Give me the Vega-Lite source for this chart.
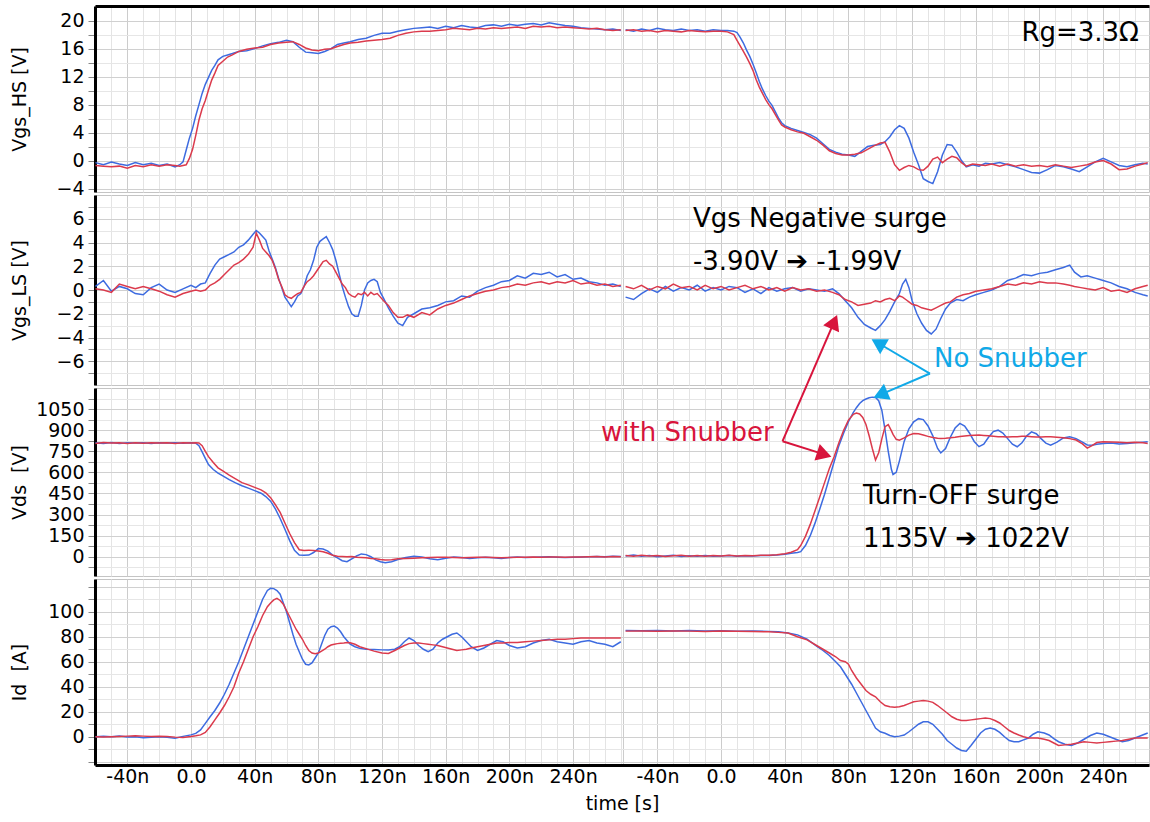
{
"$schema": "https://vega.github.io/schema/vega-lite/v6.json",
"padding": {"left": 9, "top": 5, "right": 0, "bottom": 0},
"background": "white",
"spacing": 3,
"bounds": "flush",
"config": {
  "font": "DejaVu Sans",
  "view": {"stroke": "#c4c4c4", "strokeWidth": 1},
  "axis": {"labelFont": "DejaVu Sans", "titleFont": "DejaVu Sans", "labelFontSize": 19, "titleFontSize": 19, "titleFontWeight": "normal", "labelColor": "black", "titleColor": "black", "labelOverlap": false},
  "axisY": {"domainColor": "black", "domainWidth": 3, "tickColor": "#888888", "tickSize": 7, "labelPadding": 4, "minExtent": 58, "maxExtent": 58, "titlePadding": 8, "format": "d", "labelOverlap": false}
},
"datasets": {
"hs": [
{"t":-60,"N1":-0.3,"W1":-0.7},{"t":-55,"N1":-0.6,"W1":-0.8},{"t":-50,"N1":-0.2,"W1":-0.9},{"t":-45,"N1":-0.5,"W1":-0.8},{"t":-40,"N1":-0.7,"W1":-1.1},{"t":-35,"N1":-0.3,"W1":-0.7},{"t":-30,"N1":-0.6,"W1":-0.9},{"t":-25,"N1":-0.4,"W1":-0.6},{"t":-20,"N1":-0.7,"W1":-0.8},{"t":-15,"N1":-0.5,"W1":-0.6},{"t":-10,"N1":-0.9,"W1":-0.7},{"t":-7,"N1":-0.6,"W1":-0.8},{"t":-5,"N1":-0.2,"W1":-0.7},{"t":-3,"N1":1.5,"W1":-0.6},{"t":-1,"N1":3.2,"W1":0.3},{"t":1,"N1":4.6,"W1":1.6},{"t":3,"N1":6.4,"W1":3.6},{"t":5,"N1":8.0,"W1":5.8},{"t":7,"N1":9.6,"W1":7.4},{"t":9,"N1":10.9,"W1":8.6},{"t":11,"N1":11.9,"W1":10.1},{"t":13,"N1":12.9,"W1":11.5},{"t":15,"N1":13.6,"W1":12.5},{"t":17,"N1":14.4,"W1":13.6},{"t":20,"N1":14.9,"W1":14.2},{"t":23,"N1":15.1,"W1":14.8},{"t":26,"N1":15.3,"W1":15.1},{"t":30,"N1":15.6,"W1":15.6},{"t":35,"N1":15.7,"W1":15.9},{"t":40,"N1":16.0,"W1":16.1},{"t":45,"N1":16.4,"W1":16.2},{"t":50,"N1":16.7,"W1":16.6},{"t":55,"N1":16.9,"W1":16.8},{"t":60,"N1":17.2,"W1":16.9},{"t":64,"N1":17.0,"W1":17.0},{"t":68,"N1":16.2,"W1":16.6},{"t":72,"N1":15.5,"W1":16.1},{"t":76,"N1":15.4,"W1":15.8},{"t":80,"N1":15.3,"W1":15.7},{"t":84,"N1":15.6,"W1":15.9},{"t":88,"N1":16.0,"W1":16.0},{"t":92,"N1":16.6,"W1":16.3},{"t":96,"N1":16.8,"W1":16.6},{"t":100,"N1":17.0,"W1":16.8},{"t":105,"N1":17.3,"W1":16.9},{"t":110,"N1":17.5,"W1":17.1},{"t":115,"N1":17.9,"W1":17.2},{"t":120,"N1":18.2,"W1":17.3},{"t":125,"N1":18.2,"W1":17.5},{"t":130,"N1":18.5,"W1":17.9},{"t":135,"N1":18.7,"W1":18.2},{"t":140,"N1":18.9,"W1":18.4},{"t":145,"N1":19.0,"W1":18.5},{"t":150,"N1":19.1,"W1":18.5},{"t":155,"N1":18.9,"W1":18.6},{"t":160,"N1":19.2,"W1":18.7},{"t":165,"N1":19.0,"W1":18.9},{"t":170,"N1":19.3,"W1":18.8},{"t":175,"N1":19.1,"W1":18.7},{"t":180,"N1":19.0,"W1":18.9},{"t":185,"N1":19.3,"W1":18.8},{"t":190,"N1":19.4,"W1":19.0},{"t":195,"N1":19.2,"W1":18.9},{"t":200,"N1":19.5,"W1":19.0},{"t":205,"N1":19.3,"W1":19.1},{"t":210,"N1":19.5,"W1":18.9},{"t":215,"N1":19.6,"W1":19.2},{"t":220,"N1":19.4,"W1":19.1},{"t":225,"N1":19.7,"W1":19.2},{"t":230,"N1":19.5,"W1":19.0},{"t":235,"N1":19.3,"W1":19.1},{"t":240,"N1":19.2,"W1":19.0},{"t":245,"N1":19.0,"W1":18.9},{"t":250,"N1":18.9,"W1":18.8},{"t":255,"N1":18.8,"W1":18.9},{"t":260,"N1":18.7,"W1":18.7},{"t":265,"N1":18.8,"W1":18.6},{"t":270,"N1":18.6,"W1":18.7},
{"t":273,"N2":18.7,"W2":18.6},{"t":278,"N2":18.5,"W2":18.7},{"t":283,"N2":18.8,"W2":18.5},{"t":288,"N2":18.6,"W2":18.6},{"t":293,"N2":18.9,"W2":18.4},{"t":298,"N2":18.7,"W2":18.6},{"t":303,"N2":18.6,"W2":18.5},{"t":308,"N2":18.8,"W2":18.4},{"t":313,"N2":18.6,"W2":18.6},{"t":318,"N2":18.7,"W2":18.5},{"t":323,"N2":18.5,"W2":18.4},{"t":328,"N2":18.7,"W2":18.5},{"t":333,"N2":18.6,"W2":18.5},{"t":337,"N2":18.6,"W2":18.4},{"t":341,"N2":18.5,"W2":18.0},{"t":343,"N2":18.3,"W2":17.2},{"t":345,"N2":17.6,"W2":16.4},{"t":347,"N2":16.8,"W2":15.6},{"t":349,"N2":15.8,"W2":14.8},{"t":351,"N2":14.9,"W2":13.9},{"t":353,"N2":13.8,"W2":12.9},{"t":355,"N2":12.6,"W2":11.6},{"t":357,"N2":11.3,"W2":10.5},{"t":359,"N2":10.2,"W2":9.6},{"t":361,"N2":9.3,"W2":8.7},{"t":363,"N2":8.5,"W2":8.0},{"t":365,"N2":7.9,"W2":7.4},{"t":367,"N2":7.0,"W2":6.6},{"t":369,"N2":6.1,"W2":5.8},{"t":371,"N2":5.4,"W2":5.1},{"t":373,"N2":5.0,"W2":4.8},{"t":377,"N2":4.6,"W2":4.4},{"t":381,"N2":4.3,"W2":4.1},{"t":385,"N2":4.0,"W2":3.9},{"t":389,"N2":3.7,"W2":3.4},{"t":393,"N2":3.2,"W2":2.9},{"t":397,"N2":2.4,"W2":2.2},{"t":401,"N2":1.6,"W2":1.4},{"t":405,"N2":1.2,"W2":1.0},{"t":409,"N2":0.9,"W2":0.8},{"t":413,"N2":0.8,"W2":0.8},{"t":417,"N2":0.6,"W2":0.9},{"t":421,"N2":1.3,"W2":1.1},{"t":425,"N2":2.0,"W2":1.6},{"t":429,"N2":2.2,"W2":2.1},{"t":433,"N2":2.3,"W2":2.5},{"t":436,"N2":2.7,"W2":2.6},{"t":439,"N2":3.4,"W2":1.2},{"t":442,"N2":4.4,"W2":-0.6},{"t":445,"N2":5.0,"W2":-1.4},{"t":448,"N2":4.6,"W2":-1.0},{"t":451,"N2":3.2,"W2":-0.7},{"t":454,"N2":1.2,"W2":-0.9},{"t":457,"N2":-0.6,"W2":-1.3},{"t":460,"N2":-2.6,"W2":-1.4},{"t":463,"N2":-3.0,"W2":-0.8},{"t":466,"N2":-3.3,"W2":0.2},{"t":469,"N2":-1.6,"W2":0.5},{"t":472,"N2":0.8,"W2":-0.3},{"t":475,"N2":2.3,"W2":0.2},{"t":478,"N2":2.2,"W2":0.6},{"t":481,"N2":1.2,"W2":0.4},{"t":484,"N2":0.0,"W2":-0.3},{"t":487,"N2":-0.9,"W2":-0.8},{"t":491,"N2":-0.6,"W2":-0.5},{"t":495,"N2":-0.8,"W2":-0.6},{"t":499,"N2":-0.4,"W2":-0.7},{"t":503,"N2":-0.5,"W2":-0.5},{"t":508,"N2":-0.3,"W2":-0.8},{"t":513,"N2":-0.6,"W2":-0.5},{"t":518,"N2":-0.9,"W2":-0.8},{"t":523,"N2":-1.3,"W2":-0.6},{"t":528,"N2":-1.7,"W2":-0.8},{"t":533,"N2":-1.8,"W2":-0.7},{"t":538,"N2":-1.3,"W2":-0.9},{"t":543,"N2":-0.7,"W2":-0.6},{"t":548,"N2":-0.9,"W2":-0.8},{"t":553,"N2":-1.2,"W2":-1.0},{"t":558,"N2":-1.6,"W2":-0.8},{"t":563,"N2":-0.9,"W2":-0.6},{"t":568,"N2":-0.2,"W2":-0.2},{"t":573,"N2":0.3,"W2":0.0},{"t":578,"N2":-0.2,"W2":-0.5},{"t":583,"N2":-0.7,"W2":-1.3},{"t":588,"N2":-0.9,"W2":-1.2},{"t":593,"N2":-0.6,"W2":-0.8},{"t":598,"N2":-0.4,"W2":-0.5},{"t":601,"N2":-0.5,"W2":-0.3}
],
"ls": [
{"t":-60,"N1":0.3,"W1":0.1},{"t":-55,"N1":0.8,"W1":0.0},{"t":-50,"N1":-0.1,"W1":-0.2},{"t":-45,"N1":0.3,"W1":0.5},{"t":-40,"N1":0.1,"W1":0.3},{"t":-35,"N1":-0.3,"W1":0.1},{"t":-30,"N1":-0.4,"W1":0.3},{"t":-25,"N1":0.2,"W1":0.1},{"t":-20,"N1":0.5,"W1":-0.1},{"t":-15,"N1":0.0,"W1":-0.4},{"t":-10,"N1":-0.2,"W1":-0.6},{"t":-5,"N1":0.1,"W1":-0.3},{"t":0,"N1":0.4,"W1":-0.1},{"t":3,"N1":0.2,"W1":0.0},{"t":6,"N1":0.5,"W1":-0.1},{"t":9,"N1":0.6,"W1":0.0},{"t":12,"N1":1.4,"W1":0.4},{"t":15,"N1":2.1,"W1":0.6},{"t":18,"N1":2.6,"W1":0.9},{"t":21,"N1":2.8,"W1":1.3},{"t":24,"N1":3.0,"W1":1.7},{"t":27,"N1":3.2,"W1":2.1},{"t":30,"N1":3.6,"W1":2.3},{"t":33,"N1":3.8,"W1":2.6},{"t":36,"N1":4.2,"W1":3.0},{"t":39,"N1":4.7,"W1":3.6},{"t":41,"N1":5.0,"W1":4.8},{"t":43,"N1":4.8,"W1":4.2},{"t":45,"N1":4.5,"W1":3.5},{"t":47,"N1":4.2,"W1":3.2},{"t":49,"N1":3.3,"W1":2.9},{"t":51,"N1":2.6,"W1":2.5},{"t":53,"N1":1.9,"W1":1.8},{"t":55,"N1":1.0,"W1":0.9},{"t":57,"N1":0.2,"W1":0.3},{"t":59,"N1":-0.6,"W1":-0.4},{"t":61,"N1":-1.0,"W1":-0.6},{"t":63,"N1":-1.4,"W1":-0.7},{"t":65,"N1":-1.0,"W1":-0.5},{"t":67,"N1":-0.5,"W1":-0.3},{"t":69,"N1":-0.3,"W1":-0.2},{"t":71,"N1":0.3,"W1":0.3},{"t":73,"N1":1.2,"W1":0.7},{"t":75,"N1":1.7,"W1":0.9},{"t":77,"N1":2.5,"W1":1.2},{"t":79,"N1":3.6,"W1":1.6},{"t":81,"N1":4.1,"W1":2.0},{"t":83,"N1":4.3,"W1":2.4},{"t":85,"N1":4.5,"W1":2.5},{"t":87,"N1":4.0,"W1":2.2},{"t":89,"N1":3.4,"W1":2.0},{"t":91,"N1":2.5,"W1":1.5},{"t":93,"N1":1.4,"W1":1.0},{"t":95,"N1":0.3,"W1":0.5},{"t":97,"N1":-0.6,"W1":0.2},{"t":99,"N1":-1.4,"W1":-0.3},{"t":101,"N1":-2.0,"W1":-0.5},{"t":103,"N1":-2.2,"W1":-0.6},{"t":105,"N1":-2.2,"W1":-0.3},{"t":107,"N1":-1.3,"W1":-0.4},{"t":109,"N1":0.0,"W1":-0.2},{"t":111,"N1":0.6,"W1":-0.5},{"t":113,"N1":0.8,"W1":-0.2},{"t":115,"N1":0.9,"W1":-0.4},{"t":117,"N1":0.7,"W1":-0.3},{"t":119,"N1":-0.2,"W1":-0.6},{"t":121,"N1":-0.7,"W1":-0.9},{"t":124,"N1":-1.5,"W1":-1.3},{"t":127,"N1":-2.2,"W1":-1.9},{"t":130,"N1":-2.8,"W1":-2.3},{"t":133,"N1":-3.0,"W1":-2.3},{"t":136,"N1":-2.3,"W1":-2.1},{"t":140,"N1":-2.0,"W1":-2.3},{"t":145,"N1":-1.6,"W1":-1.9},{"t":150,"N1":-1.5,"W1":-2.1},{"t":155,"N1":-1.3,"W1":-1.6},{"t":160,"N1":-1.0,"W1":-1.3},{"t":165,"N1":-0.9,"W1":-1.1},{"t":170,"N1":-0.5,"W1":-0.8},{"t":175,"N1":-0.6,"W1":-0.5},{"t":180,"N1":-0.1,"W1":-0.3},{"t":185,"N1":0.2,"W1":-0.1},{"t":190,"N1":0.4,"W1":0.0},{"t":195,"N1":0.7,"W1":0.2},{"t":200,"N1":0.8,"W1":0.3},{"t":205,"N1":1.2,"W1":0.5},{"t":210,"N1":1.0,"W1":0.4},{"t":215,"N1":1.4,"W1":0.6},{"t":220,"N1":1.3,"W1":0.7},{"t":225,"N1":1.5,"W1":0.5},{"t":230,"N1":1.1,"W1":0.7},{"t":235,"N1":1.3,"W1":0.6},{"t":240,"N1":0.9,"W1":0.8},{"t":245,"N1":1.0,"W1":0.5},{"t":250,"N1":0.7,"W1":0.6},{"t":255,"N1":0.6,"W1":0.4},{"t":260,"N1":0.4,"W1":0.5},{"t":265,"N1":0.5,"W1":0.3},{"t":270,"N1":0.3,"W1":0.4},
{"t":273,"N2":-0.6,"W2":0.3},{"t":278,"N2":-0.8,"W2":0.1},{"t":283,"N2":-0.3,"W2":0.4},{"t":288,"N2":0.1,"W2":0.0},{"t":293,"N2":-0.2,"W2":0.3},{"t":298,"N2":0.3,"W2":0.1},{"t":303,"N2":-0.1,"W2":0.5},{"t":308,"N2":0.2,"W2":0.2},{"t":313,"N2":0.0,"W2":0.3},{"t":318,"N2":0.4,"W2":0.0},{"t":323,"N2":-0.1,"W2":0.4},{"t":328,"N2":0.2,"W2":0.1},{"t":333,"N2":0.0,"W2":0.3},{"t":338,"N2":0.3,"W2":0.0},{"t":343,"N2":0.2,"W2":0.2},{"t":348,"N2":-0.2,"W2":0.4},{"t":353,"N2":0.1,"W2":0.1},{"t":358,"N2":-0.3,"W2":0.3},{"t":363,"N2":0.2,"W2":0.0},{"t":368,"N2":-0.1,"W2":0.2},{"t":373,"N2":0.1,"W2":-0.1},{"t":378,"N2":0.2,"W2":0.2},{"t":383,"N2":-0.1,"W2":0.0},{"t":388,"N2":0.1,"W2":0.1},{"t":393,"N2":0.0,"W2":-0.1},{"t":398,"N2":-0.1,"W2":0.0},{"t":403,"N2":0.1,"W2":-0.2},{"t":407,"N2":-0.3,"W2":-0.4},{"t":411,"N2":-0.9,"W2":-0.8},{"t":415,"N2":-1.5,"W2":-1.0},{"t":419,"N2":-2.3,"W2":-1.3},{"t":423,"N2":-2.9,"W2":-1.2},{"t":427,"N2":-3.2,"W2":-1.1},{"t":430,"N2":-3.4,"W2":-0.9},{"t":433,"N2":-3.0,"W2":-1.0},{"t":436,"N2":-2.5,"W2":-0.8},{"t":439,"N2":-1.8,"W2":-0.7},{"t":442,"N2":-1.0,"W2":-0.9},{"t":445,"N2":-0.3,"W2":-0.5},{"t":447,"N2":0.5,"W2":-0.6},{"t":449,"N2":0.9,"W2":-0.8},{"t":451,"N2":0.2,"W2":-1.0},{"t":453,"N2":-0.9,"W2":-1.2},{"t":456,"N2":-2.0,"W2":-1.3},{"t":459,"N2":-2.8,"W2":-1.5},{"t":462,"N2":-3.4,"W2":-1.6},{"t":465,"N2":-3.7,"W2":-1.7},{"t":468,"N2":-3.3,"W2":-1.5},{"t":471,"N2":-2.4,"W2":-1.3},{"t":474,"N2":-1.6,"W2":-1.1},{"t":477,"N2":-1.1,"W2":-1.0},{"t":481,"N2":-0.8,"W2":-0.6},{"t":485,"N2":-0.9,"W2":-0.4},{"t":489,"N2":-0.6,"W2":-0.3},{"t":493,"N2":-0.4,"W2":-0.1},{"t":498,"N2":-0.2,"W2":0.0},{"t":503,"N2":0.0,"W2":0.1},{"t":508,"N2":0.3,"W2":0.3},{"t":513,"N2":0.8,"W2":0.5},{"t":518,"N2":1.0,"W2":0.4},{"t":523,"N2":1.3,"W2":0.6},{"t":528,"N2":1.2,"W2":0.5},{"t":533,"N2":1.4,"W2":0.7},{"t":538,"N2":1.5,"W2":0.6},{"t":543,"N2":1.7,"W2":0.6},{"t":548,"N2":1.9,"W2":0.5},{"t":552,"N2":2.1,"W2":0.4},{"t":555,"N2":1.5,"W2":0.3},{"t":559,"N2":1.1,"W2":0.2},{"t":563,"N2":1.2,"W2":0.1},{"t":568,"N2":1.0,"W2":0.0},{"t":573,"N2":0.8,"W2":0.2},{"t":578,"N2":0.6,"W2":-0.1},{"t":583,"N2":0.3,"W2":0.0},{"t":588,"N2":0.1,"W2":-0.2},{"t":593,"N2":-0.2,"W2":0.1},{"t":598,"N2":-0.4,"W2":0.3},{"t":601,"N2":-0.5,"W2":0.4}
],
"ds": [
{"t":-60,"N1":810,"W1":805},{"t":-55,"N1":805,"W1":812},{"t":-50,"N1":812,"W1":808},{"t":-45,"N1":806,"W1":810},{"t":-40,"N1":810,"W1":806},{"t":-35,"N1":808,"W1":811},{"t":-30,"N1":811,"W1":807},{"t":-25,"N1":806,"W1":810},{"t":-20,"N1":810,"W1":808},{"t":-15,"N1":808,"W1":811},{"t":-10,"N1":811,"W1":806},{"t":-5,"N1":807,"W1":810},{"t":0,"N1":810,"W1":808},{"t":3,"N1":808,"W1":811},{"t":5,"N1":790,"W1":809},{"t":7,"N1":746,"W1":790},{"t":9,"N1":700,"W1":750},{"t":11,"N1":655,"W1":712},{"t":14,"N1":620,"W1":670},{"t":17,"N1":595,"W1":632},{"t":20,"N1":575,"W1":610},{"t":24,"N1":548,"W1":580},{"t":28,"N1":525,"W1":553},{"t":32,"N1":505,"W1":527},{"t":36,"N1":488,"W1":511},{"t":40,"N1":470,"W1":493},{"t":44,"N1":452,"W1":476},{"t":47,"N1":428,"W1":455},{"t":50,"N1":395,"W1":420},{"t":53,"N1":340,"W1":370},{"t":56,"N1":272,"W1":315},{"t":59,"N1":195,"W1":240},{"t":62,"N1":115,"W1":165},{"t":65,"N1":45,"W1":100},{"t":68,"N1":12,"W1":50},{"t":71,"N1":10,"W1":45},{"t":74,"N1":12,"W1":47},{"t":77,"N1":30,"W1":44},{"t":80,"N1":58,"W1":40},{"t":83,"N1":55,"W1":36},{"t":86,"N1":40,"W1":25},{"t":89,"N1":12,"W1":10},{"t":92,"N1":-8,"W1":3},{"t":95,"N1":-28,"W1":2},{"t":98,"N1":-35,"W1":0},{"t":101,"N1":-15,"W1":2},{"t":104,"N1":5,"W1":-3},{"t":107,"N1":20,"W1":-5},{"t":110,"N1":15,"W1":-8},{"t":113,"N1":0,"W1":-12},{"t":116,"N1":-22,"W1":-15},{"t":119,"N1":-35,"W1":-20},{"t":122,"N1":-42,"W1":-24},{"t":126,"N1":-35,"W1":-22},{"t":130,"N1":-20,"W1":-15},{"t":135,"N1":-5,"W1":-12},{"t":140,"N1":3,"W1":-10},{"t":145,"N1":-2,"W1":-8},{"t":150,"N1":-15,"W1":-6},{"t":155,"N1":-22,"W1":-4},{"t":160,"N1":-10,"W1":-3},{"t":165,"N1":-2,"W1":-5},{"t":170,"N1":-5,"W1":-8},{"t":175,"N1":-12,"W1":-6},{"t":180,"N1":-8,"W1":-4},{"t":185,"N1":-3,"W1":-3},{"t":190,"N1":-8,"W1":-6},{"t":195,"N1":-12,"W1":-8},{"t":200,"N1":-5,"W1":-6},{"t":205,"N1":-2,"W1":-3},{"t":210,"N1":-6,"W1":-4},{"t":215,"N1":-3,"W1":-2},{"t":220,"N1":-2,"W1":-3},{"t":225,"N1":0,"W1":-1},{"t":230,"N1":-3,"W1":-2},{"t":235,"N1":-5,"W1":-3},{"t":240,"N1":-3,"W1":-1},{"t":245,"N1":-1,"W1":-2},{"t":250,"N1":0,"W1":0},{"t":255,"N1":2,"W1":1},{"t":260,"N1":0,"W1":-1},{"t":265,"N1":3,"W1":2},{"t":270,"N1":1,"W1":0},
{"t":273,"N2":5,"W2":8},{"t":278,"N2":12,"W2":3},{"t":283,"N2":3,"W2":10},{"t":288,"N2":8,"W2":5},{"t":293,"N2":0,"W2":9},{"t":298,"N2":6,"W2":2},{"t":303,"N2":10,"W2":7},{"t":308,"N2":2,"W2":11},{"t":313,"N2":7,"W2":4},{"t":318,"N2":4,"W2":8},{"t":323,"N2":9,"W2":3},{"t":328,"N2":3,"W2":9},{"t":333,"N2":6,"W2":5},{"t":338,"N2":8,"W2":10},{"t":343,"N2":4,"W2":6},{"t":348,"N2":7,"W2":9},{"t":353,"N2":5,"W2":7},{"t":358,"N2":9,"W2":10},{"t":363,"N2":8,"W2":10},{"t":368,"N2":12,"W2":14},{"t":373,"N2":18,"W2":22},{"t":377,"N2":25,"W2":32},{"t":381,"N2":30,"W2":50},{"t":383,"N2":36,"W2":80},{"t":386,"N2":80,"W2":145},{"t":389,"N2":150,"W2":230},{"t":392,"N2":239,"W2":327},{"t":395,"N2":340,"W2":427},{"t":398,"N2":445,"W2":527},{"t":401,"N2":560,"W2":627},{"t":404,"N2":676,"W2":711},{"t":407,"N2":790,"W2":810},{"t":410,"N2":880,"W2":900},{"t":413,"N2":960,"W2":972},{"t":416,"N2":1025,"W2":1012},{"t":418,"N2":1060,"W2":1022},{"t":420,"N2":1090,"W2":1015},{"t":422,"N2":1110,"W2":990},{"t":424,"N2":1122,"W2":940},{"t":426,"N2":1130,"W2":860},{"t":428,"N2":1135,"W2":770},{"t":430,"N2":1132,"W2":688},{"t":432,"N2":1110,"W2":740},{"t":434,"N2":1040,"W2":840},{"t":436,"N2":900,"W2":925},{"t":438,"N2":750,"W2":940},{"t":440,"N2":620,"W2":895},{"t":441,"N2":585,"W2":870},{"t":443,"N2":600,"W2":835},{"t":445,"N2":680,"W2":829},{"t":448,"N2":820,"W2":845},{"t":451,"N2":910,"W2":865},{"t":454,"N2":960,"W2":877},{"t":457,"N2":982,"W2":875},{"t":460,"N2":975,"W2":866},{"t":463,"N2":930,"W2":856},{"t":466,"N2":860,"W2":848},{"t":469,"N2":770,"W2":843},{"t":471,"N2":738,"W2":841},{"t":474,"N2":770,"W2":843},{"t":477,"N2":850,"W2":846},{"t":480,"N2":915,"W2":850},{"t":483,"N2":948,"W2":855},{"t":486,"N2":930,"W2":859},{"t":489,"N2":880,"W2":862},{"t":492,"N2":820,"W2":864},{"t":495,"N2":783,"W2":865},{"t":498,"N2":800,"W2":863},{"t":501,"N2":850,"W2":860},{"t":504,"N2":890,"W2":857},{"t":507,"N2":900,"W2":854},{"t":510,"N2":880,"W2":853},{"t":513,"N2":840,"W2":852},{"t":516,"N2":800,"W2":853},{"t":519,"N2":782,"W2":854},{"t":522,"N2":810,"W2":856},{"t":525,"N2":860,"W2":856},{"t":528,"N2":888,"W2":854},{"t":531,"N2":875,"W2":852},{"t":534,"N2":840,"W2":852},{"t":537,"N2":808,"W2":853},{"t":540,"N2":794,"W2":853},{"t":544,"N2":815,"W2":850},{"t":548,"N2":845,"W2":846},{"t":552,"N2":853,"W2":840},{"t":556,"N2":840,"W2":830},{"t":560,"N2":815,"W2":802},{"t":563,"N2":795,"W2":772},{"t":566,"N2":793,"W2":790},{"t":569,"N2":800,"W2":812},{"t":573,"N2":805,"W2":818},{"t":578,"N2":808,"W2":816},{"t":583,"N2":802,"W2":815},{"t":588,"N2":806,"W2":811},{"t":593,"N2":810,"W2":815},{"t":598,"N2":815,"W2":810},{"t":601,"N2":818,"W2":806}
],
"id": [
{"t":-60,"N1":0,"W1":0},{"t":-55,"N1":0.3,"W1":-0.2},{"t":-50,"N1":0,"W1":0},{"t":-45,"N1":0.5,"W1":0.2},{"t":-40,"N1":-0.2,"W1":0.5},{"t":-35,"N1":0,"W1":0.8},{"t":-30,"N1":-0.8,"W1":0.5},{"t":-25,"N1":-0.4,"W1":0.3},{"t":-20,"N1":0,"W1":0.4},{"t":-15,"N1":-0.5,"W1":0.2},{"t":-10,"N1":-1.2,"W1":-0.3},{"t":-5,"N1":0.3,"W1":-0.5},{"t":0,"N1":1.5,"W1":0.2},{"t":3,"N1":2.7,"W1":0.8},{"t":6,"N1":5.5,"W1":1.5},{"t":9,"N1":10.7,"W1":3.5},{"t":12,"N1":16,"W1":8},{"t":15,"N1":21,"W1":13.5},{"t":18,"N1":27,"W1":19},{"t":21,"N1":34,"W1":25},{"t":24,"N1":42,"W1":32},{"t":27,"N1":51,"W1":40},{"t":30,"N1":60,"W1":51},{"t":33,"N1":70,"W1":60},{"t":36,"N1":80,"W1":70},{"t":39,"N1":90,"W1":80},{"t":42,"N1":100,"W1":88},{"t":45,"N1":110,"W1":97},{"t":48,"N1":117,"W1":104},{"t":50,"N1":118.7,"W1":107},{"t":52,"N1":118.5,"W1":109.5},{"t":54,"N1":117,"W1":110.7},{"t":56,"N1":114,"W1":109},{"t":58,"N1":107,"W1":106},{"t":60,"N1":100,"W1":101},{"t":62,"N1":91,"W1":96},{"t":64,"N1":82,"W1":91},{"t":66,"N1":74,"W1":86},{"t":68,"N1":68,"W1":82},{"t":70,"N1":62,"W1":78},{"t":72,"N1":58,"W1":73},{"t":74,"N1":57.4,"W1":69},{"t":76,"N1":59,"W1":67},{"t":78,"N1":63,"W1":66.5},{"t":80,"N1":67,"W1":67},{"t":82,"N1":74,"W1":68.5},{"t":84,"N1":81,"W1":70},{"t":86,"N1":86,"W1":72},{"t":88,"N1":88,"W1":73.4},{"t":90,"N1":88.5,"W1":74},{"t":92,"N1":87,"W1":74.5},{"t":94,"N1":84,"W1":74.8},{"t":96,"N1":80,"W1":75},{"t":98,"N1":77,"W1":75.3},{"t":100,"N1":74,"W1":75.2},{"t":103,"N1":72,"W1":74},{"t":106,"N1":70.7,"W1":72},{"t":110,"N1":70,"W1":70.5},{"t":115,"N1":69.8,"W1":68.5},{"t":120,"N1":69.5,"W1":67},{"t":124,"N1":69.4,"W1":66.7},{"t":128,"N1":70,"W1":69},{"t":131,"N1":72,"W1":71},{"t":134,"N1":76,"W1":73},{"t":137,"N1":79,"W1":74.5},{"t":140,"N1":77,"W1":75},{"t":143,"N1":73,"W1":75},{"t":146,"N1":70,"W1":74.5},{"t":149,"N1":68,"W1":74},{"t":152,"N1":70,"W1":73.5},{"t":155,"N1":75,"W1":73},{"t":158,"N1":78,"W1":72},{"t":161,"N1":80,"W1":71},{"t":164,"N1":82,"W1":70},{"t":167,"N1":83,"W1":69},{"t":170,"N1":80,"W1":69.5},{"t":173,"N1":76,"W1":70},{"t":176,"N1":72,"W1":71},{"t":180,"N1":69,"W1":72},{"t":184,"N1":71,"W1":73},{"t":188,"N1":74,"W1":74},{"t":192,"N1":77,"W1":75},{"t":196,"N1":76,"W1":75},{"t":200,"N1":73,"W1":75.5},{"t":205,"N1":71,"W1":75.5},{"t":210,"N1":72,"W1":76},{"t":215,"N1":75,"W1":76.5},{"t":220,"N1":77,"W1":77},{"t":225,"N1":78,"W1":77.5},{"t":230,"N1":76,"W1":78},{"t":235,"N1":75,"W1":78},{"t":240,"N1":74,"W1":78.5},{"t":245,"N1":76,"W1":79},{"t":250,"N1":77,"W1":79},{"t":255,"N1":75,"W1":79},{"t":260,"N1":74,"W1":79},{"t":265,"N1":72,"W1":79},{"t":270,"N1":76,"W1":79},
{"t":273,"N2":85,"W2":84.5},{"t":283,"N2":84.8,"W2":84.6},{"t":293,"N2":85,"W2":84.4},{"t":303,"N2":84.7,"W2":84.6},{"t":313,"N2":84.9,"W2":84.5},{"t":323,"N2":84.6,"W2":84.3},{"t":333,"N2":84.8,"W2":84.5},{"t":343,"N2":84.5,"W2":84.4},{"t":353,"N2":84.6,"W2":84.2},{"t":363,"N2":84.3,"W2":84.0},{"t":369,"N2":84,"W2":83.5},{"t":375,"N2":83,"W2":83},{"t":381,"N2":81.5,"W2":80},{"t":387,"N2":78,"W2":77.5},{"t":393,"N2":72.5,"W2":73},{"t":397,"N2":69,"W2":70},{"t":401,"N2":65,"W2":67},{"t":405,"N2":60,"W2":64},{"t":408,"N2":56,"W2":61},{"t":411,"N2":50,"W2":60},{"t":413,"N2":46,"W2":58},{"t":415,"N2":42,"W2":53},{"t":418,"N2":35,"W2":47},{"t":421,"N2":28,"W2":42},{"t":424,"N2":21,"W2":37},{"t":427,"N2":14,"W2":34},{"t":430,"N2":7,"W2":32},{"t":433,"N2":4,"W2":28},{"t":436,"N2":2.8,"W2":25},{"t":439,"N2":1,"W2":24},{"t":442,"N2":0,"W2":23.7},{"t":445,"N2":0.5,"W2":24},{"t":448,"N2":1.4,"W2":25},{"t":451,"N2":4,"W2":26.5},{"t":454,"N2":7,"W2":28},{"t":457,"N2":10,"W2":28.5},{"t":460,"N2":12,"W2":29},{"t":463,"N2":12,"W2":28.5},{"t":466,"N2":10,"W2":27.5},{"t":469,"N2":6,"W2":25},{"t":472,"N2":2,"W2":22},{"t":475,"N2":-3,"W2":19},{"t":478,"N2":-6,"W2":16},{"t":481,"N2":-9,"W2":14},{"t":484,"N2":-11,"W2":13},{"t":487,"N2":-11.5,"W2":13},{"t":490,"N2":-7,"W2":13.5},{"t":493,"N2":-2,"W2":14},{"t":496,"N2":3,"W2":14.5},{"t":499,"N2":6,"W2":15},{"t":502,"N2":7,"W2":14.5},{"t":505,"N2":6,"W2":13},{"t":508,"N2":3.5,"W2":11},{"t":511,"N2":0,"W2":8},{"t":514,"N2":-3,"W2":5},{"t":517,"N2":-4,"W2":3},{"t":520,"N2":-4,"W2":1.4},{"t":523,"N2":-2.5,"W2":0},{"t":526,"N2":-1,"W2":-1},{"t":529,"N2":2,"W2":-1},{"t":532,"N2":4,"W2":-1},{"t":536,"N2":3,"W2":-2},{"t":539,"N2":1.4,"W2":-3},{"t":542,"N2":-1.5,"W2":-5},{"t":545,"N2":-4,"W2":-7},{"t":549,"N2":-6,"W2":-6.5},{"t":553,"N2":-7,"W2":-6},{"t":557,"N2":-5,"W2":-5},{"t":561,"N2":-2,"W2":-4},{"t":565,"N2":1,"W2":-4.5},{"t":569,"N2":3,"W2":-5},{"t":573,"N2":2,"W2":-4.5},{"t":577,"N2":0,"W2":-4},{"t":581,"N2":-2,"W2":-3.5},{"t":585,"N2":-4,"W2":-3},{"t":589,"N2":-3,"W2":-2},{"t":593,"N2":-1,"W2":-1},{"t":597,"N2":1,"W2":-1},{"t":601,"N2":3,"W2":-1}
]
},
"vconcat": [
{
 "width": 1054, "height": 186,
 "resolve": {"axis": {"x": "independent", "y": "independent"}},
 "layer": [
  {"data": {"name": "hs"}, "transform": [{"fold": ["N1","W1","N2","W2"], "as": ["k","v"]}],
   "mark": {"type": "line", "strokeWidth": 1.5, "clip": true},
   "encoding": {
    "x": {"field": "t", "type": "quantitative", "scale": {"domain": [-60.3, 601.8], "nice": false, "zero": false},
      "axis": {"orient": "top", "values": [-50,-40,-30,-20,-10,0,10,20,30,40,50,60,70,80,90,100,110,120,130,140,150,160,170,180,190,200,210,220,230,240,250,260,270,271.5,283,293,303,313,323,333,343,353,363,373,383,393,403,413,423,433,443,453,463,473,483,493,503,513,523,533,543,553,563,573,583,593], "labels": false, "ticks": false, "domain": true, "domainColor": "black", "domainWidth": 3, "title": null, "grid": true, "gridColor": {"condition": {"test": "datum.value == 271.5 || (datum.value < 271 ? datum.value : datum.value - 333) % 40 == 0", "value": "#cccccc"}, "value": "#e4e4e4"}, "minExtent": 0, "maxExtent": 0}},
    "y": {"field": "v", "type": "quantitative", "scale": {"domain": [-4.5, 22.1], "nice": false, "zero": false},
      "axis": {"title": "Vgs_HS [V]", "values": [-4,-2,0,2,4,6,8,10,12,14,16,18,20], "labelOverlap": false, "labelExpr": "datum.value % 4 == 0 ? datum.label : ''", "gridColor": {"condition": {"test": "datum.value % 4 == 0", "value": "#d0d0d0"}, "value": "#e6e6e6"}}},
    "color": {"field": "k", "type": "nominal", "scale": {"domain": ["N1","N2","W1","W2"], "range": ["#3d6be0","#3d6be0","#db3a4c","#db3a4c"]}, "legend": null}
   }},
  {"data": {"values": [{}]}, "mark": {"type": "text", "text": "Rg=3.3Ω", "align": "right", "baseline": "middle", "fontSize": 26, "font": "DejaVu Sans", "fill": "black"},
   "encoding": {"x": {"datum": 595.5, "type": "quantitative", "axis": null}, "y": {"datum": 18.3, "type": "quantitative", "axis": null}}}
 ]
},
{
 "width": 1054, "height": 190,
 "resolve": {"axis": {"x": "independent", "y": "independent"}},
 "layer": [
  {"data": {"name": "ls"}, "transform": [{"fold": ["N1","W1","N2","W2"], "as": ["k","v"]}],
   "mark": {"type": "line", "strokeWidth": 1.5, "clip": true},
   "encoding": {
    "x": {"field": "t", "type": "quantitative", "scale": {"domain": [-60.3, 601.8], "nice": false, "zero": false},
      "axis": {"values": [-50,-40,-30,-20,-10,0,10,20,30,40,50,60,70,80,90,100,110,120,130,140,150,160,170,180,190,200,210,220,230,240,250,260,270,271.5,283,293,303,313,323,333,343,353,363,373,383,393,403,413,423,433,443,453,463,473,483,493,503,513,523,533,543,553,563,573,583,593], "labels": false, "ticks": false, "domain": false, "title": null, "grid": true, "gridColor": {"condition": {"test": "datum.value == 271.5 || (datum.value < 271 ? datum.value : datum.value - 333) % 40 == 0", "value": "#cccccc"}, "value": "#e4e4e4"}, "minExtent": 0, "maxExtent": 0}},
    "y": {"field": "v", "type": "quantitative", "scale": {"domain": [-8, 8], "nice": false, "zero": false},
      "axis": {"title": "Vgs_LS [V]", "values": [-7,-6,-5,-4,-3,-2,-1,0,1,2,3,4,5,6,7], "labelOverlap": false, "labelExpr": "datum.value % 2 == 0 ? datum.label : ''", "gridColor": {"condition": {"test": "datum.value % 2 == 0", "value": "#d0d0d0"}, "value": "#e6e6e6"}}},
    "color": {"field": "k", "type": "nominal", "scale": {"domain": ["N1","N2","W1","W2"], "range": ["#3d6be0","#3d6be0","#db3a4c","#db3a4c"]}, "legend": null}
   }},
  {"data": {"values": [{}]}, "mark": {"type": "text", "text": "Vgs Negative surge", "align": "left", "baseline": "middle", "fontSize": 26, "font": "DejaVu Sans", "fill": "black"},
   "encoding": {"x": {"datum": 315.3, "type": "quantitative", "axis": null}, "y": {"datum": 6.02, "type": "quantitative", "axis": null}}},
  {"data": {"values": [{}]}, "mark": {"type": "text", "text": "-3.90V ➔ -1.99V", "align": "left", "baseline": "middle", "fontSize": 26, "font": "DejaVu Sans", "fill": "black"},
   "encoding": {"x": {"datum": 315.3, "type": "quantitative", "axis": null}, "y": {"datum": 2.4, "type": "quantitative", "axis": null}}},
  {"data": {"values": [{}]}, "mark": {"type": "text", "text": "No Snubber", "align": "left", "baseline": "middle", "fontSize": 26, "font": "DejaVu Sans", "fill": "#10a9e8"},
   "encoding": {"x": {"datum": 466.7, "type": "quantitative", "axis": null}, "y": {"datum": -5.85, "type": "quantitative", "axis": null}}}
 ]
},
{
 "width": 1054, "height": 188,
 "resolve": {"axis": {"x": "independent", "y": "independent"}},
 "layer": [
  {"data": {"name": "ds"}, "transform": [{"fold": ["N1","W1","N2","W2"], "as": ["k","v"]}],
   "mark": {"type": "line", "strokeWidth": 1.5, "clip": true},
   "encoding": {
    "x": {"field": "t", "type": "quantitative", "scale": {"domain": [-60.3, 601.8], "nice": false, "zero": false},
      "axis": {"values": [-50,-40,-30,-20,-10,0,10,20,30,40,50,60,70,80,90,100,110,120,130,140,150,160,170,180,190,200,210,220,230,240,250,260,270,271.5,283,293,303,313,323,333,343,353,363,373,383,393,403,413,423,433,443,453,463,473,483,493,503,513,523,533,543,553,563,573,583,593], "labels": false, "ticks": false, "domain": false, "title": null, "grid": true, "gridColor": {"condition": {"test": "datum.value == 271.5 || (datum.value < 271 ? datum.value : datum.value - 333) % 40 == 0", "value": "#cccccc"}, "value": "#e4e4e4"}, "minExtent": 0, "maxExtent": 0}},
    "y": {"field": "v", "type": "quantitative", "scale": {"domain": [-137, 1200], "nice": false, "zero": false},
      "axis": {"title": "Vds\u00a0\u00a0[V]", "values": [-75,0,75,150,225,300,375,450,525,600,675,750,825,900,975,1050,1125], "labelOverlap": false, "labelExpr": "datum.value >= 0 && datum.value % 150 == 0 ? datum.label : ''", "gridColor": {"condition": {"test": "datum.value % 150 == 0", "value": "#d0d0d0"}, "value": "#e6e6e6"}}},
    "color": {"field": "k", "type": "nominal", "scale": {"domain": ["N1","N2","W1","W2"], "range": ["#3d6be0","#3d6be0","#db3a4c","#db3a4c"]}, "legend": null}
   }},
  {"data": {"values": [{}]}, "mark": {"type": "text", "text": "with Snubber", "align": "left", "baseline": "middle", "fontSize": 26, "font": "DejaVu Sans", "fill": "#d8143c"},
   "encoding": {"x": {"datum": 257.6, "type": "quantitative", "axis": null}, "y": {"datum": 883.5, "type": "quantitative", "axis": null}}},
  {"data": {"values": [{}]}, "mark": {"type": "text", "text": "Turn-OFF surge", "align": "left", "baseline": "middle", "fontSize": 26, "font": "DejaVu Sans", "fill": "black"},
   "encoding": {"x": {"datum": 422.1, "type": "quantitative", "axis": null}, "y": {"datum": 428.4, "type": "quantitative", "axis": null}}},
  {"data": {"values": [{}]}, "mark": {"type": "text", "text": "1135V ➔ 1022V", "align": "left", "baseline": "middle", "fontSize": 26, "font": "DejaVu Sans", "fill": "black"},
   "encoding": {"x": {"datum": 422.1, "type": "quantitative", "axis": null}, "y": {"datum": 122.6, "type": "quantitative", "axis": null}}},
  {"data": {"values": [{}]}, "mark": {"type": "rule", "color": "#d8143c", "strokeWidth": 2},
   "encoding": {"x": {"datum": 371.6, "type": "quantitative", "axis": null}, "y": {"datum": 821.7, "type": "quantitative", "axis": null}, "x2": {"datum": 404.0}, "y2": {"datum": 1670}}},
  {"data": {"values": [{}]}, "mark": {"type": "rule", "color": "#d8143c", "strokeWidth": 2},
   "encoding": {"x": {"datum": 371.6, "type": "quantitative", "axis": null}, "y": {"datum": 821.7, "type": "quantitative", "axis": null}, "x2": {"datum": 397.8}, "y2": {"datum": 727.8}}},
  {"data": {"values": [{}]}, "mark": {"type": "rule", "color": "#10a9e8", "strokeWidth": 2},
   "encoding": {"x": {"datum": 464.2, "type": "quantitative", "axis": null}, "y": {"datum": 1303, "type": "quantitative", "axis": null}, "x2": {"datum": 431.6}, "y2": {"datum": 1520}}},
  {"data": {"values": [{}]}, "mark": {"type": "rule", "color": "#10a9e8", "strokeWidth": 2},
   "encoding": {"x": {"datum": 464.2, "type": "quantitative", "axis": null}, "y": {"datum": 1303, "type": "quantitative", "axis": null}, "x2": {"datum": 433.1}, "y2": {"datum": 1152.4}}},
  {"data": {"values": [{}]}, "mark": {"type": "point", "shape": "triangle-up", "filled": true, "size": 300, "angle": 23.4, "color": "#d8143c", "opacity": 1},
   "encoding": {"x": {"datum": 404.0, "type": "quantitative", "axis": null}, "y": {"datum": 1670, "type": "quantitative", "axis": null}}},
  {"data": {"values": [{}]}, "mark": {"type": "point", "shape": "triangle-up", "filled": true, "size": 300, "angle": 107.5, "color": "#d8143c", "opacity": 1},
   "encoding": {"x": {"datum": 397.8, "type": "quantitative", "axis": null}, "y": {"datum": 727.8, "type": "quantitative", "axis": null}}},
  {"data": {"values": [{}]}, "mark": {"type": "point", "shape": "triangle-up", "filled": true, "size": 300, "angle": 300.4, "color": "#10a9e8", "opacity": 1},
   "encoding": {"x": {"datum": 431.6, "type": "quantitative", "axis": null}, "y": {"datum": 1520, "type": "quantitative", "axis": null}}},
  {"data": {"values": [{}]}, "mark": {"type": "point", "shape": "triangle-up", "filled": true, "size": 300, "angle": 246.8, "color": "#10a9e8", "opacity": 1},
   "encoding": {"x": {"datum": 433.1, "type": "quantitative", "axis": null}, "y": {"datum": 1152.4, "type": "quantitative", "axis": null}}}
 ]
},
{
 "width": 1054, "height": 186,
 "layer": [
  {"data": {"name": "id"}, "transform": [{"fold": ["N1","W1","N2","W2"], "as": ["k","v"]}],
   "mark": {"type": "line", "strokeWidth": 1.5, "clip": true},
   "encoding": {
    "x": {"field": "t", "type": "quantitative", "scale": {"domain": [-60.3, 601.8], "nice": false, "zero": false},
      "axis": {"values": [-50,-40,-30,-20,-10,0,10,20,30,40,50,60,70,80,90,100,110,120,130,140,150,160,170,180,190,200,210,220,230,240,250,260,270,271.5,283,293,303,313,323,333,343,353,363,373,383,393,403,413,423,433,443,453,463,473,483,493,503,513,523,533,543,553,563,573,583,593], "labelOverlap": false, "labelExpr": "datum.value < 271 ? ((datum.value % 40 == 0 && datum.value >= -40 && datum.value <= 240) ? (datum.value == 0 ? '0.0' : datum.value + 'n') : '') : (datum.value == 271.5 ? '' : (((datum.value - 333) % 40 == 0 && datum.value - 333 >= -40 && datum.value - 333 <= 240) ? (datum.value == 333 ? '0.0' : (datum.value - 333) + 'n') : ''))", "ticks": false, "tickSize": 0, "labelPadding": 2, "domain": true, "domainColor": "black", "domainWidth": 3, "title": "time [s]", "titlePadding": 8, "grid": true, "gridColor": {"condition": {"test": "datum.value == 271.5 || (datum.value < 271 ? datum.value : datum.value - 333) % 40 == 0", "value": "#cccccc"}, "value": "#e4e4e4"}, "labelFlush": false}},
    "y": {"field": "v", "type": "quantitative", "scale": {"domain": [-22.6, 126.2], "nice": false, "zero": false},
      "axis": {"title": "Id\u00a0\u00a0[A]", "values": [-20,-10,0,10,20,30,40,50,60,70,80,90,100,110,120], "labelOverlap": false, "labelExpr": "datum.value >= 0 && datum.value <= 100 && datum.value % 20 == 0 ? datum.label : ''", "gridColor": {"condition": {"test": "datum.value % 20 == 0", "value": "#d0d0d0"}, "value": "#e6e6e6"}}},
    "color": {"field": "k", "type": "nominal", "scale": {"domain": ["N1","N2","W1","W2"], "range": ["#3d6be0","#3d6be0","#db3a4c","#db3a4c"]}, "legend": null}
   }}
 ]
}
]
}
